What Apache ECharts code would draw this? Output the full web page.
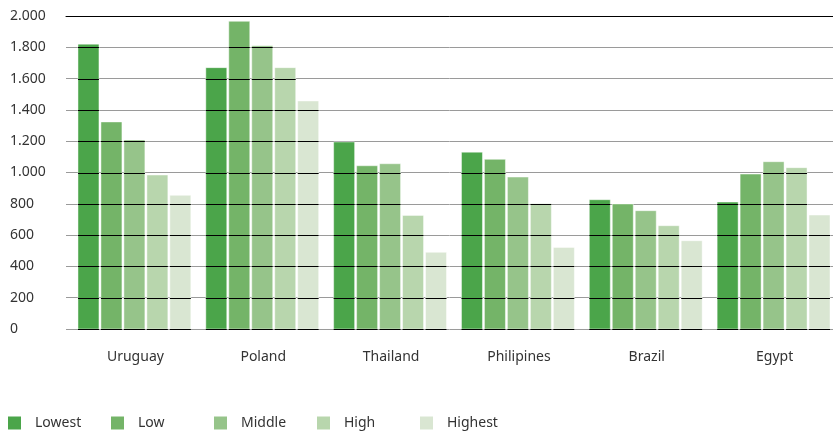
<!DOCTYPE html>
<html>
<head>
<meta charset="utf-8">
<script src="https://cdn.jsdelivr.net/npm/echarts@6/dist/echarts.min.js"></script>
<style>
  html, body { margin: 0; padding: 0; background: #fff; }
  #chart { width: 833px; height: 432px; }
</style>
</head>
<body>
<div id="chart"></div>
<script>
// Countries on the category axis
const categories = ['Uruguay', 'Poland', 'Thailand', 'Philipines', 'Brazil', 'Egypt'];

// One series per income level
const lowest  = [1820, 1670, 1195, 1130, 826, 811];
const low     = [1323, 1966, 1043, 1084, 799, 990];
const middle  = [1208, 1810, 1056, 971, 756, 1069];
const high    = [984, 1670, 726, 800, 660, 1031];
const highest = [854, 1457, 490, 521, 564, 728];

const seriesNames = ['Lowest', 'Low', 'Middle', 'High', 'Highest'];
const seriesData = [lowest, low, middle, high, highest];
const seriesColors = ['#4ba54a', '#74b468', '#96c48a', '#b8d6ad', '#d9e6d2'];

// Value axis ticks
const yMin = 0;
const yMax = 2000;
const yStep = 200;

const FONT = '"Noto Sans", sans-serif';

function thousands(v) {
  return String(v).replace(/\B(?=(\d{3})+(?!\d))/g, '.');
}

// Bar geometry inside a category band, as fractions of the band width
const BAND_PX = 128;
const GROUP_OFFSET = 12 / BAND_PX;
const BAR_W = 21 / BAND_PX;
const BAR_STEP = 23 / BAND_PX;

function makeRenderer(k) {
  return function (params, api) {
    const ci = api.value(0);
    const val = api.value(1);
    const bandW = api.size([1, 0])[0];
    const center = api.coord([ci, 0])[0];
    const bandStart = center - bandW / 2;
    const x0 = bandStart + bandW * (GROUP_OFFSET + k * BAR_STEP);
    const w = bandW * BAR_W;
    const yBase = api.coord([ci, 0])[1];
    const yTop = api.coord([ci, val])[1];
    const children = [{
      type: 'rect',
      shape: { x: x0, y: yTop, width: w, height: yBase - yTop },
      style: { fill: api.visual('color'), stroke: 'rgba(255,255,255,0.45)', lineWidth: 1 }
    }];
    // dark gridline segments crossing the bar
    for (let t = yMin; t <= val; t += yStep) {
      const y = Math.round(api.coord([ci, t])[1]) + 0.5;
      children.push({
        type: 'line',
        shape: { x1: x0, y1: y, x2: x0 + w, y2: y },
        style: { stroke: '#000', lineWidth: 1 }
      });
    }
    return { type: 'group', children: children };
  };
}

const series = seriesNames.map(function (name, k) {
  return {
    name: name,
    type: 'custom',
    renderItem: makeRenderer(k),
    itemStyle: { color: seriesColors[k] },
    encode: { x: 0, y: 1 },
    data: seriesData[k].map(function (v, i) { return [i, v]; }),
    z: 3
  };
});

// one legend entry per level, evenly spaced along the bottom
const legends = seriesNames.map(function (name, k) {
  return {
    data: [name],
    left: 8 + k * 103,
    top: 416,
    padding: 0,
    icon: 'rect',
    itemWidth: 13,
    itemHeight: 13,
    selectedMode: false,
    textStyle: {
      fontFamily: FONT, fontSize: 14, color: '#333',
      padding: [0, 0, 0, 9]
    }
  };
});

const chart = echarts.init(document.getElementById('chart'), null, { renderer: 'canvas' });
chart.setOption({
  animation: false,
  grid: { left: 66, right: 0, top: 16, bottom: 103, containLabel: false },
  legend: legends,
  xAxis: [{
    type: 'category',
    data: categories,
    axisLine: { show: false },
    axisTick: { show: false },
    axisLabel: {
      margin: 21,
      padding: [0, 0, 0, 11],
      fontFamily: FONT, fontSize: 14, color: '#333'
    }
  }, {
    type: 'category',
    position: 'top',
    data: categories,
    axisLine: { show: true, lineStyle: { color: '#000', width: 1 } },
    axisTick: { show: false },
    axisLabel: { show: false }
  }],
  yAxis: {
    type: 'value',
    min: yMin,
    max: yMax,
    interval: yStep,
    axisLine: { show: false },
    axisTick: { show: false },
    splitLine: { show: true, lineStyle: { color: '#9a9a9a', width: 1 } },
    axisLabel: {
      align: 'left',
      margin: 56,
      padding: [4, 0, 0, 0],
      fontFamily: FONT, fontSize: 14, color: '#333',
      formatter: thousands
    }
  },
  series: series
});
</script>
</body>
</html>
